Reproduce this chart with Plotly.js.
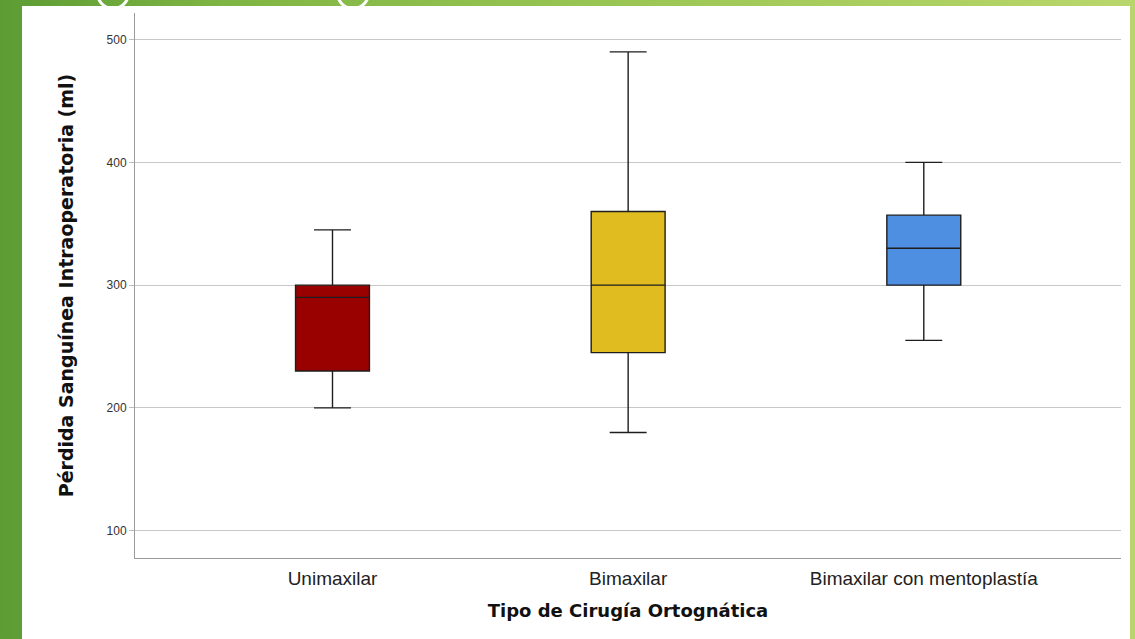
<!DOCTYPE html>
<html>
<head>
<meta charset="utf-8">
<script src="https://cdn.plot.ly/plotly-3.0.1.min.js"></script>
<style>
  html, body { margin:0; padding:0; width:1135px; height:639px; overflow:hidden; }
  body { background: linear-gradient(90deg, #5c9c33 0%, #7fb544 20%, #9ec856 60%, #b9d66c 100%); position:relative; }
  .ring { position:absolute; width:34px; height:34px; border-radius:50%; border:3px solid #ffffff; top:-24px; box-sizing:border-box; }
  #chart { position:absolute; left:22px; top:6px; width:1108px; height:633px; background:#ffffff; }
</style>
</head>
<body>
<div class="ring" style="left:96px;"></div>
<div class="ring" style="left:336px;"></div>
<div id="chart"></div>
<script>
const categories = ['Unimaxilar', 'Bimaxilar', 'Bimaxilar con mentoplastía'];
const lowerValues = [200, 180, 255];
const q1Values = [230, 245, 300];
const medianValues = [290, 300, 330];
const q3Values = [300, 360, 357];
const upperValues = [345, 490, 400];
const boxColors = ['#990000', '#e0bc20', '#4f8fe2'];
const yTickValues = [100, 200, 300, 400, 500];

const traces = categories.map((c, i) => ({
  type: 'box',
  name: c,
  x: [c],
  q1: [q1Values[i]],
  median: [medianValues[i]],
  q3: [q3Values[i]],
  lowerfence: [lowerValues[i]],
  upperfence: [upperValues[i]],
  boxpoints: false,
  width: 0.25,
  whiskerwidth: 0.5,
  fillcolor: boxColors[i],
  line: { color: '#1e1e1e', width: 1.4 },
  hoverinfo: 'skip',
  showlegend: false
}));

const layout = {
  width: 1108,
  height: 633,
  margin: { l: 113, r: 9, t: 7, b: 81 },
  paper_bgcolor: '#ffffff',
  plot_bgcolor: '#ffffff',
  boxmode: 'overlay',
  showlegend: false,
  xaxis: {
    type: 'category',
    categoryorder: 'array',
    categoryarray: categories,
    range: [-0.668, 2.667],
    showgrid: false,
    zeroline: false,
    showline: true,
    linecolor: '#9a9a9a',
    linewidth: 1,
    ticks: '',
    ticklabelstandoff: 3,
    tickfont: { family: 'Liberation Sans, Arial, sans-serif', size: 19, color: '#222222' },
    title: {
      text: 'Tipo de Cirugía Ortognática',
      font: { family: 'DejaVu Sans, sans-serif', size: 18, color: '#111111', weight: 'bold' },
      standoff: 16
    },
    automargin: false
  },
  yaxis: {
    range: [77.7, 521.7],
    tickvals: yTickValues,
    ticktext: yTickValues.map(String),
    showgrid: true,
    gridcolor: '#c8c8c8',
    gridwidth: 1,
    zeroline: false,
    showline: true,
    linecolor: '#9a9a9a',
    linewidth: 1,
    ticks: 'outside',
    ticklen: 5,
    tickcolor: '#bdbdbd',
    tickfont: { family: 'Liberation Sans, Arial, sans-serif', size: 12, color: '#333333' },
    title: {
      text: 'Pérdida Sanguínea Intraoperatoria (ml)',
      font: { family: 'DejaVu Sans, sans-serif', size: 19, color: '#111111', weight: 'bold' },
      standoff: 27
    },
    automargin: false
  }
};

Plotly.newPlot('chart', traces, layout, { displayModeBar: false, staticPlot: true });
</script>
</body>
</html>
